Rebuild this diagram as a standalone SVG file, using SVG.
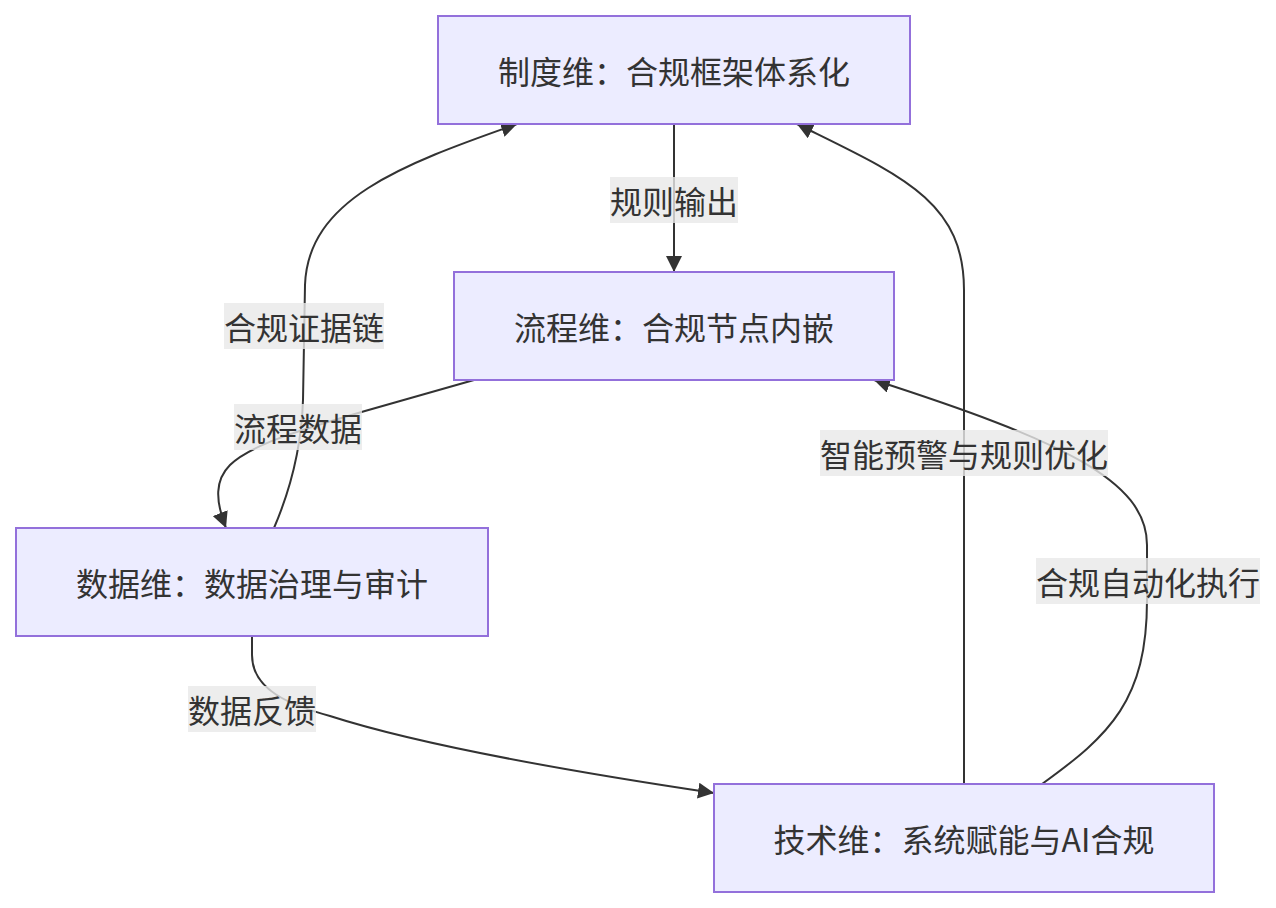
<svg xmlns="http://www.w3.org/2000/svg" width="1276" height="908" viewBox="0 0 1276 908">
<style>
.node rect{fill:#ECECFF;stroke:#9370DB;stroke-width:2}
text{font-family:"Noto Sans CJK SC","Noto Sans",sans-serif;font-size:32px;fill:#333;text-anchor:middle;dominant-baseline:central}
.edge{fill:none;stroke:#333;stroke-width:2}
.lbl rect{fill:rgba(232,232,232,0.8)}
</style>
<defs>
<marker id="arr" viewBox="0 0 10 10" refX="10" refY="5" markerUnits="userSpaceOnUse" markerWidth="16" markerHeight="16" orient="auto">
<path d="M0,0 L10,5 L0,10 z" fill="#333"/>
</marker>
</defs>
<rect width="1276" height="908" fill="#fff"/>
<g id="connectors">
<path class="edge" d="M674,124 L674,272" marker-end="url(#arr)"/>
<path class="edge" d="M474,380 L365,411 C300,430 250,445 230,465 C215,480 215,500 226,528" marker-end="url(#arr)"/>
<path class="edge" d="M274,528 Q301,465 303,400 L305,285 C308,200 400,165 517,124" marker-end="url(#arr)"/>
<path class="edge" d="M252,636 L252,655 C252,690 290,705 330,716 C420,745 560,770 714,793" marker-end="url(#arr)"/>
<path class="edge" d="M964,784 L964,290 C964,200 900,175 797,124" marker-end="url(#arr)"/>
<path class="edge" d="M1042,784 C1110,735 1147,700 1147,600 L1147,545 C1147,480 1060,440 874,380" marker-end="url(#arr)"/>
</g>
<g id="edge-labels">
<g class="lbl"><rect x="610" y="177" width="128" height="46"/><text x="674" y="200">规则输出</text></g>
<g class="lbl"><rect x="234" y="404" width="128" height="46"/><text x="298" y="427">流程数据</text></g>
<g class="lbl"><rect x="224" y="303" width="160" height="46"/><text x="304" y="326">合规证据链</text></g>
<g class="lbl"><rect x="188" y="686" width="128" height="46"/><text x="252" y="709">数据反馈</text></g>
<g class="lbl"><rect x="820" y="430" width="288" height="46"/><text x="964" y="453">智能预警与规则优化</text></g>
<g class="lbl"><rect x="1036" y="558" width="224" height="46"/><text x="1148" y="581">合规自动化执行</text></g>
</g>
<g id="node-A" class="node"><rect x="438" y="16" width="472" height="108"/><text x="674" y="70">制度维：合规框架体系化</text></g>
<g id="node-B" class="node"><rect x="454" y="272" width="440" height="108"/><text x="674" y="326">流程维：合规节点内嵌</text></g>
<g id="node-C" class="node"><rect x="16" y="528" width="472" height="108"/><text x="252" y="582">数据维：数据治理与审计</text></g>
<g id="node-D" class="node"><rect x="714" y="784" width="500" height="108"/><text x="964" y="838">技术维：系统赋能与AI合规</text></g>
</svg>
